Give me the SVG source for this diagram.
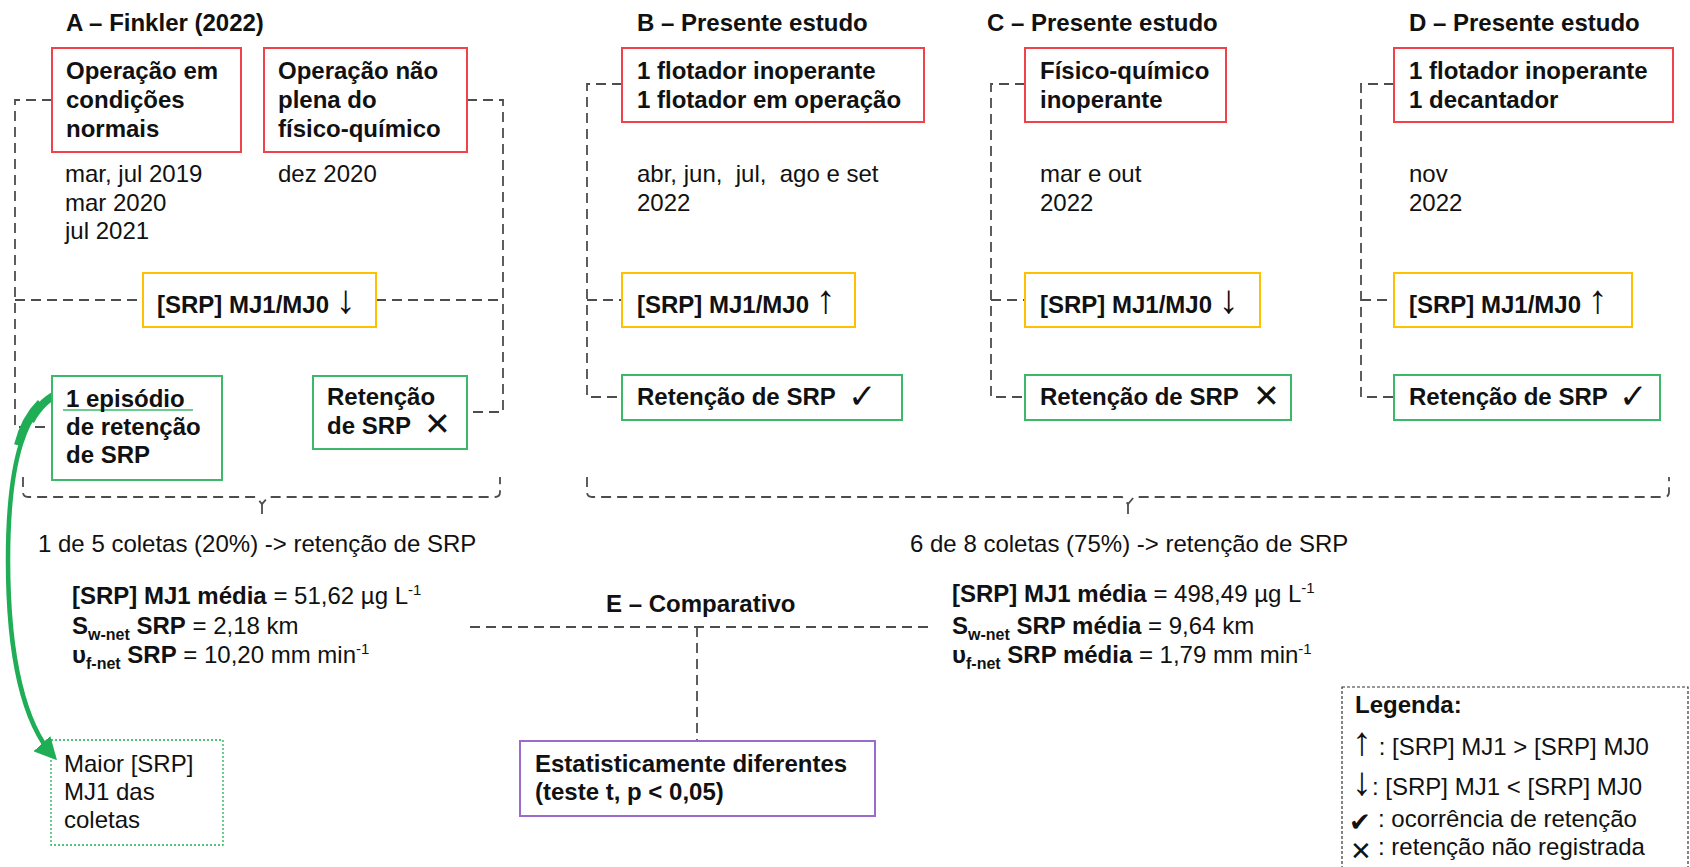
<svg xmlns="http://www.w3.org/2000/svg" width="1690" height="867" viewBox="0 0 1690 867">
<style>
.t{font-family:"Liberation Sans",Arial,sans-serif;font-size:24px;fill:#111}
.b{font-weight:bold}
.dash{fill:none;stroke:#4d4d4d;stroke-width:1.8;stroke-dasharray:10 6}
.red{fill:#fff;stroke:#f0424a;stroke-width:2}
.yel{fill:#fff;stroke:#ffc000;stroke-width:2}
.grn{fill:#fff;stroke:#3cb86a;stroke-width:2}
.pur{fill:#fff;stroke:#9b6bc9;stroke-width:2}
.sym{font-family:"DejaVu Sans",sans-serif;font-weight:normal;fill:#111}
.arr{font-family:"Liberation Sans",Arial,sans-serif;font-size:40px;font-weight:normal;fill:#111}
.sub{font-size:16px}
.sup{font-size:15px}
</style>
<defs>
<marker id="gh" viewBox="0 0 10 10" refX="8" refY="5" markerWidth="5" markerHeight="5" orient="auto" markerUnits="strokeWidth">
<path d="M0 0 L10 5 L0 10 Z" fill="#1fae55"/>
</marker>
</defs>
<rect width="1690" height="867" fill="#fff"/>

<g id="connectors">
<path class="dash" d="M52 100 H15 V427 H52"/>
<path class="dash" d="M15 300 H143"/>
<path class="dash" d="M467 100 H503 V412 H467"/>
<path class="dash" d="M376 300 H503"/>
<path class="dash" d="M622 84 H587 V397 H622"/>
<path class="dash" d="M587 300 H622"/>
<path class="dash" d="M1025 84 H991 V397 H1025"/>
<path class="dash" d="M991 300 H1025"/>
<path class="dash" d="M1394 84 H1361 V397 H1394"/>
<path class="dash" d="M1361 300 H1394"/>
<path class="dash" d="M23 477 V492 Q23 497 28 497 H256 L262 504 L268 497 H495 Q500 497 500 492 V477"/>
<path class="dash" d="M262 504 V520"/>
<path class="dash" d="M587 477 V492 Q587 497 592 497 H1122 L1128 504 L1134 497 H1664 Q1669 497 1669 492 V477"/>
<path class="dash" d="M1128 504 V520"/>
<path class="dash" d="M470 627 H933"/>
<path class="dash" d="M697 627 V741"/>
<path d="M62 392 C25 405, 8 460, 8 560 C8 660, 25 725, 54 757" fill="none" stroke="#1fae55" stroke-width="4.5" marker-end="url(#gh)"/>
<path d="M62 392 C49 396.5, 38.5 406, 30.4 421" fill="none" stroke="#1fae55" stroke-width="8"/>
<path d="M40 402 C30 412, 22 425, 17 445" fill="none" stroke="#1fae55" stroke-width="6"/>
</g>

<g id="titles" class="t b">
<text x="66" y="31">A – Finkler (2022)</text>
<text x="637" y="31">B – Presente estudo</text>
<text x="987" y="31">C – Presente estudo</text>
<text x="1409" y="31">D – Presente estudo</text>
</g>

<g id="nodeA1">
<rect class="red" x="52" y="48" width="189" height="104"/>
<text class="t b" x="66" y="79">Operação em</text>
<text class="t b" x="66" y="108">condições</text>
<text class="t b" x="66" y="137">normais</text>
</g>
<g id="nodeA2">
<rect class="red" x="264" y="48" width="203" height="104"/>
<text class="t b" x="278" y="79">Operação não</text>
<text class="t b" x="278" y="108">plena do</text>
<text class="t b" x="278" y="137">físico-químico</text>
</g>
<g id="datesA" class="t">
<text x="65" y="182">mar, jul 2019</text>
<text x="65" y="211">mar 2020</text>
<text x="65" y="239">jul 2021</text>
<text x="278" y="182">dez 2020</text>
</g>

<g id="nodeB">
<rect class="red" x="622" y="48" width="302" height="74"/>
<text class="t b" x="637" y="79">1 flotador inoperante</text>
<text class="t b" x="637" y="108">1 flotador em operação</text>
</g>
<g id="nodeC">
<rect class="red" x="1025" y="48" width="201" height="74"/>
<text class="t b" x="1040" y="79">Físico-químico</text>
<text class="t b" x="1040" y="108">inoperante</text>
</g>
<g id="nodeD">
<rect class="red" x="1394" y="48" width="279" height="74"/>
<text class="t b" x="1409" y="79">1 flotador inoperante</text>
<text class="t b" x="1409" y="108">1 decantador</text>
</g>
<g id="datesBCD" class="t">
<text x="637" y="182" xml:space="preserve">abr, jun,  jul,  ago e set</text>
<text x="637" y="211">2022</text>
<text x="1040" y="182">mar e out</text>
<text x="1040" y="211">2022</text>
<text x="1409" y="182">nov</text>
<text x="1409" y="211">2022</text>
</g>

<g id="yelA">
<rect class="yel" x="143" y="273" width="233" height="54"/>
<text class="t b" x="157" y="313">[SRP] MJ1/MJ0 <tspan class="arr">↓</tspan></text>
</g>
<g id="yelB">
<rect class="yel" x="622" y="273" width="233" height="54"/>
<text class="t b" x="637" y="313">[SRP] MJ1/MJ0 <tspan class="arr">↑</tspan></text>
</g>
<g id="yelC">
<rect class="yel" x="1025" y="273" width="235" height="54"/>
<text class="t b" x="1040" y="313">[SRP] MJ1/MJ0 <tspan class="arr">↓</tspan></text>
</g>
<g id="yelD">
<rect class="yel" x="1394" y="273" width="238" height="54"/>
<text class="t b" x="1409" y="313">[SRP] MJ1/MJ0 <tspan class="arr">↑</tspan></text>
</g>

<g id="grnA1">
<rect class="grn" x="52" y="376" width="170" height="104"/>
<line x1="63" y1="410" x2="193" y2="410" stroke="#3cb86a" stroke-width="1.5"/>
<text class="t b" x="66" y="407">1 episódio</text>
<text class="t b" x="66" y="435">de retenção</text>
<text class="t b" x="66" y="463">de SRP</text>
</g>
<g id="grnA2">
<rect class="grn" x="313" y="376" width="154" height="73"/>
<text class="t b" x="327" y="405">Retenção</text>
<text class="t b" x="327" y="434">de SRP</text>
<text class="sym" x="424" y="435" font-size="32">✕</text>
</g>
<g id="grnB">
<rect class="grn" x="622" y="375" width="280" height="45"/>
<text class="t b" x="637" y="405">Retenção de SRP</text>
<text class="sym" x="848" y="408" font-size="34">✓</text>
</g>
<g id="grnC">
<rect class="grn" x="1025" y="375" width="266" height="45"/>
<text class="t b" x="1040" y="405">Retenção de SRP</text>
<text class="sym" x="1253" y="407" font-size="32">✕</text>
</g>
<g id="grnD">
<rect class="grn" x="1394" y="375" width="266" height="45"/>
<text class="t b" x="1409" y="405">Retenção de SRP</text>
<text class="sym" x="1619" y="408" font-size="34">✓</text>
</g>

<g id="summaries" class="t">
<text x="38" y="552">1 de 5 coletas (20%) -&gt; retenção de SRP</text>
<text x="910" y="552">6 de 8 coletas (75%) -&gt; retenção de SRP</text>
</g>

<g id="statsA" class="t">
<text x="72" y="604"><tspan class="b">[SRP] MJ1 média</tspan> = 51,62 µg L<tspan class="sup" dy="-9">-1</tspan></text>
<text x="72" y="634"><tspan class="b">S</tspan><tspan class="b sub" dy="6">w-net</tspan><tspan class="b" dy="-6"> SRP</tspan> = 2,18 km</text>
<text x="72" y="663"><tspan class="b">υ</tspan><tspan class="b sub" dy="6">f-net</tspan><tspan class="b" dy="-6"> SRP</tspan> = 10,20 mm min<tspan class="sup" dy="-9">-1</tspan></text>
</g>
<g id="statsBCD" class="t">
<text x="952" y="602"><tspan class="b">[SRP] MJ1 média</tspan> = 498,49 µg L<tspan class="sup" dy="-9">-1</tspan></text>
<text x="952" y="634"><tspan class="b">S</tspan><tspan class="b sub" dy="6">w-net</tspan><tspan class="b" dy="-6"> SRP média</tspan> = 9,64 km</text>
<text x="952" y="663"><tspan class="b">υ</tspan><tspan class="b sub" dy="6">f-net</tspan><tspan class="b" dy="-6"> SRP média</tspan> = 1,79 mm min<tspan class="sup" dy="-9">-1</tspan></text>
</g>

<g id="nodeE">
<text class="t b" x="606" y="612">E – Comparativo</text>
<rect class="pur" x="520" y="741" width="355" height="75"/>
<text class="t b" x="535" y="772">Estatisticamente diferentes</text>
<text class="t b" x="535" y="800">(teste t, p &lt; 0,05)</text>
</g>

<g id="nodeMaior">
<rect x="51" y="740" width="172" height="105" fill="none" stroke="#1fae55" stroke-width="1.3" stroke-dasharray="2 2"/>
<text class="t" x="64" y="772">Maior [SRP]</text>
<text class="t" x="64" y="800">MJ1 das</text>
<text class="t" x="64" y="828">coletas</text>
</g>

<g id="legend">
<rect x="1342" y="687" width="346" height="200" fill="#fff" stroke="#333" stroke-width="1.2" stroke-dasharray="3 2"/>
<text class="t b" x="1355" y="713">Legenda:</text>
<text class="t" x="1352" y="755"><tspan class="arr" font-size="38">↑</tspan> : [SRP] MJ1 &gt; [SRP] MJ0</text>
<text class="t" x="1352" y="795"><tspan class="arr" font-size="38">↓</tspan>: [SRP] MJ1 &lt; [SRP] MJ0</text>
<text class="sym" x="1349" y="831" font-size="26">✔</text>
<text class="t" x="1378" y="827">: ocorrência de retenção</text>
<text class="sym" x="1350" y="860" font-size="26" font-weight="bold">✕</text>
<text class="t" x="1378" y="855">: retenção não registrada</text>
</g>
</svg>
